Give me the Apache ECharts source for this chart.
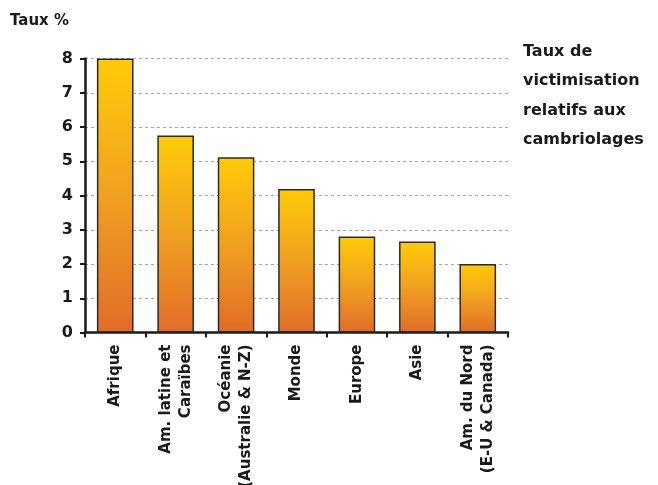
<!DOCTYPE html>
<html>
<head>
<meta charset="utf-8">
<script src="https://cdn.jsdelivr.net/npm/echarts@6/dist/echarts.min.js"></script>
<style>
  html, body { margin: 0; padding: 0; background: #fff; }
  #chart { width: 658px; height: 485px; }
</style>
</head>
<body>
<div id="chart"></div>
<script>
// Burglary victimisation rates by region (%)
const categories = [
  'Afrique',
  'Am. latine et\nCaraïbes',
  'Océanie\n(Australie & N-Z)',
  'Monde',
  'Europe',
  'Asie',
  'Am. du Nord\n(E-U & Canada)'
];
const rates = [8.0, 5.75, 5.12, 4.19, 2.8, 2.66, 2.0];
const yTicks = [0, 1, 2, 3, 4, 5, 6, 7, 8];

const FONT = '"DejaVu Sans", sans-serif';
const INK = '#1a1a1a';

const chart = echarts.init(document.getElementById('chart'), null, { renderer: 'canvas' });

chart.setOption({
  backgroundColor: '#ffffff',
  animation: false,
  title: [
    {
      text: 'Taux %',
      left: 5,
      top: 9,
      textStyle: { fontFamily: FONT, fontWeight: 'bold', fontSize: 15, color: INK }
    },
    {
      text: 'Taux de\nvictimisation\nrelatifs aux\ncambriolages',
      left: 518,
      top: 32,
      textStyle: { fontFamily: FONT, fontWeight: 'bold', fontSize: 16, color: INK, lineHeight: 29.5 }
    }
  ],
  grid: { left: 85, right: 150, top: 58.5, bottom: 152.5, outerBoundsMode: 'none' },
  xAxis: {
    type: 'category',
    data: categories,
    axisLine: { lineStyle: { color: INK, width: 2.5 } },
    axisTick: { show: true, length: 5, lineStyle: { color: INK, width: 2 } },
    axisLabel: {
      interval: 0,
      rotate: 90,
      margin: 12,
      fontFamily: FONT,
      fontWeight: 'bold',
      fontSize: 15,
      lineHeight: 20,
      color: INK
    }
  },
  yAxis: {
    type: 'value',
    min: yTicks[0],
    max: yTicks[yTicks.length - 1],
    interval: 1,
    axisLine: { show: true, lineStyle: { color: INK, width: 2.5 } },
    axisTick: { show: true, length: 5, lineStyle: { color: INK, width: 2 } },
    axisLabel: {
      margin: 12,
      fontFamily: FONT,
      fontWeight: 'bold',
      fontSize: 16,
      color: INK
    },
    splitLine: { show: true, lineStyle: { color: '#a8a8a8', type: [3, 3], width: 1 } }
  },
  series: [{
    type: 'bar',
    data: rates,
    barWidth: '60.6%',
    itemStyle: {
      color: new echarts.graphic.LinearGradient(0, 0, 0, 1, [
        { offset: 0, color: '#fecb08' },
        { offset: 0.5, color: '#f0a020' },
        { offset: 1, color: '#e06c28' }
      ]),
      borderColor: '#2a2a2a',
      borderWidth: 1.5
    },
    z: 3
  }]
});
</script>
</body>
</html>
